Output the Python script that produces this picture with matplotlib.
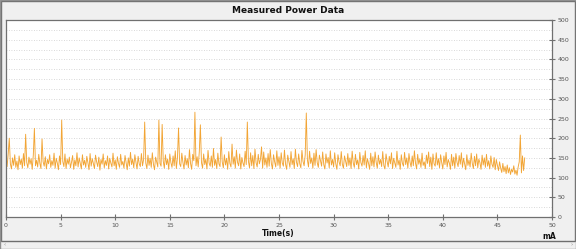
import numpy as np
import matplotlib
matplotlib.use("Agg")
import matplotlib.pyplot as plt
from matplotlib.ticker import MultipleLocator
from matplotlib.patches import Rectangle

# sampled current, one value every 0.1 s
t_step = 0.1
current = [
    145, 128, 160, 200, 135, 122, 150, 131, 158, 126, 142, 120, 155, 133, 147, 124, 161, 130, 210, 138,
    125, 152, 134, 148, 121, 157, 225, 130, 144, 127, 159, 136, 123, 198, 140, 129, 153, 122, 146, 135,
    158, 126, 143, 131, 162, 124, 149, 137, 120, 155, 133, 246, 141, 128, 160, 123, 147, 134, 152, 125,
    139, 156, 121, 145, 130, 163, 127, 150, 136, 122, 158, 132, 144, 126, 154, 138, 120, 161, 129, 148,
    135, 123, 157, 140, 128, 152, 119, 146, 134, 160, 125, 143, 131, 155, 122, 149, 137, 127, 162, 130,
    145, 121, 153, 136, 126, 159, 132, 141, 124, 156, 138, 120, 150, 129, 164, 133, 147, 125, 158, 139,
    122, 154, 135, 128, 161, 130, 146, 241, 137, 123, 157, 131, 149, 126, 163, 134, 120, 152, 140, 127,
    246, 136, 129, 235, 142, 124, 158, 133, 147, 121, 160, 138, 126, 155, 130, 168, 123, 150, 226, 135,
    128, 162, 139, 122, 156, 132, 148, 125, 171, 136, 121, 159, 143, 266, 130, 153, 127, 165, 234, 138,
    124, 160, 133, 147, 122, 169, 137, 129, 155, 126, 174, 131, 146, 123, 162, 135, 128, 203, 140, 125,
    158, 132, 149, 121, 166, 136, 127, 185, 134, 153, 124, 170, 139, 130, 160, 122, 151, 137, 128, 167,
    133, 241, 141, 125, 163, 130, 156, 123, 172, 138, 127, 159, 135, 146, 178, 124, 165, 132, 150, 126,
    161, 129, 171, 136, 122, 158, 140, 127, 168, 131, 153, 124, 163, 137, 129, 170, 134, 121, 157, 142,
    126, 166, 133, 148, 123, 172, 139, 128, 160, 135, 125, 169, 141, 130, 158, 264, 145, 127, 167, 136,
    150, 124, 162, 131, 171, 138, 126, 157, 143, 129, 165, 133, 122, 160, 137, 151, 125, 168, 132, 146,
    127, 163, 135, 121, 158, 140, 130, 166, 134, 124, 155, 142, 128, 161, 131, 150, 123, 167, 137, 126,
    159, 133, 145, 122, 164, 138, 129, 156, 132, 168, 125, 148, 136, 121, 162, 130, 153, 127, 165, 139,
    124, 157, 134, 146, 128, 166, 131, 122, 160, 141, 127, 154, 135, 163, 123, 149, 138, 126, 167, 132,
    145, 121, 158, 136, 129, 164, 133, 150, 124, 161, 139, 127, 155, 130, 168, 137, 122, 159, 134, 147,
    126, 162, 131, 140, 123, 157, 136, 165, 128, 152, 121, 160, 135, 129, 163, 132, 148, 125, 158, 138,
    122, 155, 133, 164, 127, 146, 137, 121, 159, 130, 152, 124, 161, 139, 128, 156, 134, 163, 126, 149,
    135, 120, 158, 131, 145, 127, 162, 136, 123, 154, 130, 160, 125, 147, 138, 121, 157, 132, 150, 126,
    159, 129, 143, 122, 155, 134, 126, 151, 120, 146, 131, 118, 140, 124, 113, 136, 115, 128, 110, 132,
    112, 125, 108, 121, 114, 130, 109, 119, 106, 127, 140, 208, 112, 155, 118, 150,
]
time_s = np.arange(len(current)) * t_step

W, H = 576, 249
fig = plt.figure(figsize=(W / 100, H / 100), dpi=100, facecolor="#f0f0f0")

# window frame
fig.patches.append(Rectangle((1 / W, 8 / H), 574 / W, 240 / H, transform=fig.transFigure,
                             fill=False, edgecolor="#6e6e6e", lw=1.0))
fig.patches.append(Rectangle((0, 0), 1, 1, transform=fig.transFigure,
                             fill=False, edgecolor="#909090", lw=1.0))
fig.text(4 / W, 4 / H, "‹", fontsize=4, color="#888888", va="center")
fig.text(571 / W, 4 / H, "›", fontsize=4, color="#888888", va="center")

ax = fig.add_axes([6 / W, 32 / H, 546 / W, 197 / H])
ax.set_facecolor("white")
ax.plot(time_s, current, color="#f2a535", lw=0.65)

ax.set_xlim(0, 50)
ax.set_ylim(0, 500)
ax.xaxis.set_major_locator(MultipleLocator(5))
ax.yaxis.set_major_locator(MultipleLocator(50))
ax.yaxis.set_minor_locator(MultipleLocator(25))
ax.yaxis.tick_right()
ax.tick_params(axis="both", which="major", direction="inout", length=5, width=0.8,
               colors="#707070", labelsize=4.5, labelcolor="#555555", pad=1.5)
ax.tick_params(axis="y", which="minor", length=0)
ax.grid(True, axis="y", which="both", linestyle=(0, (1, 2)), color="#cccccc", lw=0.6)
for s in ax.spines.values():
    s.set_color("#707070")
    s.set_linewidth(0.9)

fig.text(288 / W, 1 - 10 / H, "Measured Power Data", ha="center", va="center",
         fontsize=6.5, fontweight="bold", color="#111111")
fig.text(278 / W, 1 - 233.5 / H, "Time(s)", ha="center", va="center",
         fontsize=5.5, fontweight="bold", color="#111111")
fig.text(549 / W, 1 - 236 / H, "mA", ha="center", va="center",
         fontsize=5.5, fontweight="bold", color="#111111")

fig.savefig("out.png", dpi=100, facecolor=fig.get_facecolor())
